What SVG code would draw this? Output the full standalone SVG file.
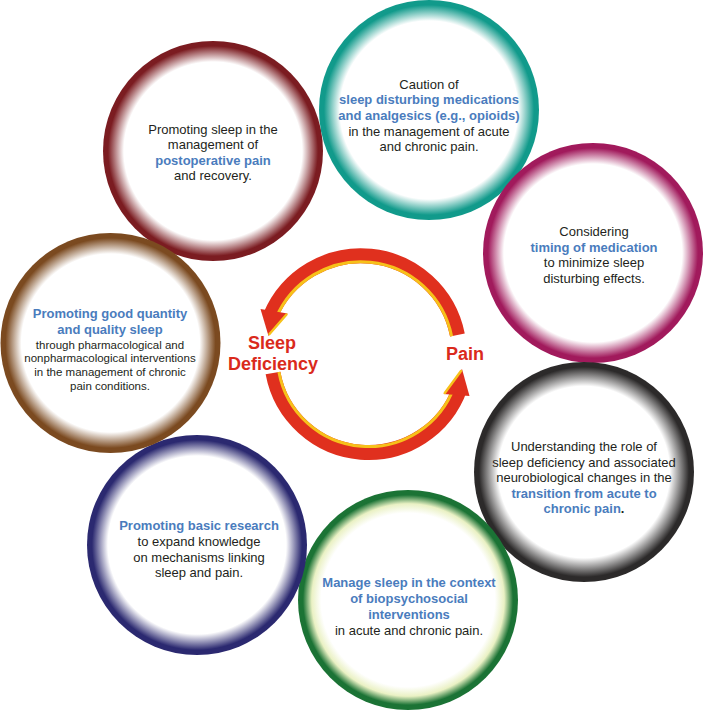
<svg xmlns="http://www.w3.org/2000/svg" width="704" height="712" viewBox="0 0 704 712">
<defs>
<radialGradient id="gMaroon"><stop offset="0" stop-color="#fff"/><stop offset="0.81" stop-color="#fff"/><stop offset="0.955" stop-color="#7B1C21"/><stop offset="1" stop-color="#7B1C21"/></radialGradient>
<radialGradient id="gTeal"><stop offset="0" stop-color="#fff"/><stop offset="0.81" stop-color="#fff"/><stop offset="0.955" stop-color="#119A8B"/><stop offset="1" stop-color="#119A8B"/></radialGradient>
<radialGradient id="gMagenta"><stop offset="0" stop-color="#fff"/><stop offset="0.81" stop-color="#fff"/><stop offset="0.955" stop-color="#A11A5C"/><stop offset="1" stop-color="#A11A5C"/></radialGradient>
<radialGradient id="gBlack"><stop offset="0" stop-color="#fff"/><stop offset="0.78" stop-color="#fff"/><stop offset="0.955" stop-color="#2C2A2A"/><stop offset="1" stop-color="#2C2A2A"/></radialGradient>
<radialGradient id="gGreen"><stop offset="0" stop-color="#fff"/><stop offset="0.79" stop-color="#fff"/><stop offset="0.875" stop-color="#EAF1C4"/><stop offset="0.955" stop-color="#1B7335"/><stop offset="1" stop-color="#1B7335"/></radialGradient>
<radialGradient id="gNavy"><stop offset="0" stop-color="#fff"/><stop offset="0.81" stop-color="#fff"/><stop offset="0.955" stop-color="#2B2970"/><stop offset="1" stop-color="#2B2970"/></radialGradient>
<radialGradient id="gBrown"><stop offset="0" stop-color="#fff"/><stop offset="0.81" stop-color="#fff"/><stop offset="0.955" stop-color="#7B4A20"/><stop offset="1" stop-color="#7B4A20"/></radialGradient>
</defs>
<style>
.t{font-family:"Liberation Sans",Arial,Helvetica,sans-serif;font-size:13px;fill:#231F20;text-anchor:middle}
.b{font-weight:bold;fill:#4A7CBD}
.s{font-size:11.5px}
.k{font-weight:bold;fill:#231F20}
.lbl{font-family:"Liberation Sans",Arial,Helvetica,sans-serif;font-size:18px;font-weight:bold;fill:#DA2A1C;text-anchor:middle}
.arc{fill:none;stroke:#E0301E;stroke-width:15}
.yel{fill:none;stroke:#F7C11A;stroke-width:3}
.head{fill:#E0301E}
.hedge{fill:none;stroke:#F7C11A;stroke-width:2.5;stroke-linecap:round}
</style>
<rect width="704" height="712" fill="#fff"/>

<g id="node-postoperative">
<circle cx="213" cy="151" r="110" fill="url(#gMaroon)"/>
<text class="t" x="213" y="133.5">Promoting sleep in the</text>
<text class="t" x="213" y="149.1">management of</text>
<text class="t b" x="213" y="164.7">postoperative pain</text>
<text class="t" x="213" y="180.3">and recovery.</text>
</g>

<g id="node-caution">
<circle cx="429" cy="110" r="110" fill="url(#gTeal)"/>
<text class="t" x="429" y="88.5">Caution of</text>
<text class="t b" x="429" y="104">sleep disturbing medications</text>
<text class="t b" x="429" y="120">and analgesics (e.g., opioids)</text>
<text class="t" x="429" y="135.5">in the management of acute</text>
<text class="t" x="429" y="151">and chronic pain.</text>
</g>

<g id="node-timing">
<circle cx="593" cy="253" r="110" fill="url(#gMagenta)"/>
<text class="t" x="594" y="236">Considering</text>
<text class="t b" x="594" y="251.5">timing of medication</text>
<text class="t" x="594" y="267">to minimize sleep</text>
<text class="t" x="594" y="282.5">disturbing effects.</text>
</g>

<g id="node-transition">
<circle cx="584" cy="472" r="110" fill="url(#gBlack)"/>
<text class="t" x="584" y="451">Understanding the role of</text>
<text class="t" x="584" y="466.5">sleep deficiency and associated</text>
<text class="t" x="584" y="482">neurobiological changes in the</text>
<text class="t b" x="584" y="497.5">transition from acute to</text>
<text class="t" x="584" y="513"><tspan class="b">chronic pain</tspan><tspan class="k">.</tspan></text>
</g>

<g id="node-biopsychosocial">
<circle cx="408" cy="600" r="110" fill="url(#gGreen)"/>
<text class="t b" x="409" y="587">Manage sleep in the context</text>
<text class="t b" x="409" y="603">of biopsychosocial</text>
<text class="t b" x="409" y="619">interventions</text>
<text class="t" x="409" y="634.5">in acute and chronic pain.</text>
</g>

<g id="node-research">
<circle cx="197" cy="545" r="110" fill="url(#gNavy)"/>
<text class="t b" x="199" y="530">Promoting basic research</text>
<text class="t" x="199" y="546">to expand knowledge</text>
<text class="t" x="199" y="561.5">on mechanisms linking</text>
<text class="t" x="199" y="577">sleep and pain.</text>
</g>

<g id="node-quality">
<circle cx="110.5" cy="343" r="110" fill="url(#gBrown)"/>
<text class="t b" x="110" y="318">Promoting good quantity</text>
<text class="t b" x="110" y="334">and quality sleep</text>
<text class="t s" x="110" y="348.5">through pharmacological and</text>
<text class="t s" x="110" y="362">nonpharmacological interventions</text>
<text class="t s" x="110" y="376">in the management of chronic</text>
<text class="t s" x="110" y="390">pain conditions.</text>
</g>

<g id="node-sleep-deficiency">
<text class="lbl" x="272" y="349">Sleep</text>
<text class="lbl" x="273" y="369.5">Deficiency</text>
</g>

<g id="node-pain">
<text class="lbl" x="465" y="360">Pain</text>
</g>

<g id="connectors">
<path class="arc" d="M 457.4 335 A 98.3 98.3 0 0 0 270.35 316"/>
<path class="yel" d="M 451.6 336.2 A 92.3 92.3 0 0 0 275.9 318.3"/>
<polygon class="head" points="260.5,309 268.5,336 287.5,313.5"/>
<line class="hedge" x1="286.5" y1="314.5" x2="269.5" y2="334"/>

<path class="arc" d="M 273.0 373 A 97.2 97.2 0 0 0 460.1 388"/>
<path class="yel" d="M 278.9 371.9 A 91.2 91.2 0 0 0 454.5 386"/>
<polygon class="head" points="469.5,396 462,369 443.5,394"/>
<line class="hedge" x1="444.8" y1="393" x2="461" y2="371"/>
</g>
</svg>
